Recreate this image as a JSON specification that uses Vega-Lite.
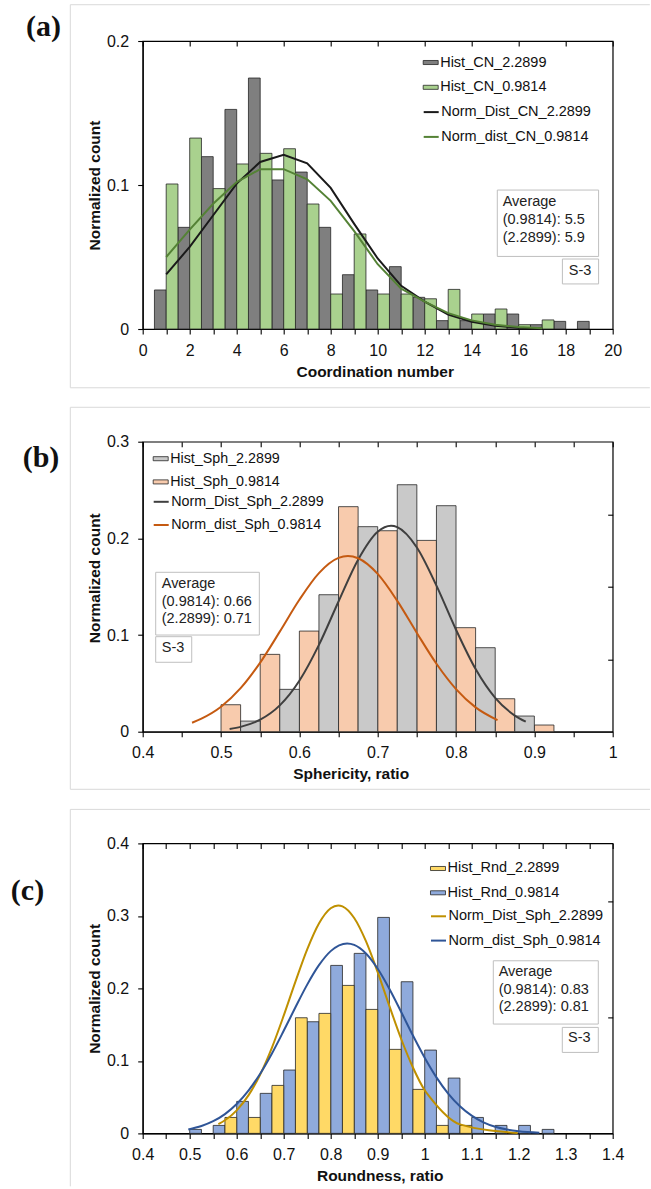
{
  "$schema": "https://vega.github.io/schema/vega-lite/v6.json",
  "background": "white",
  "padding": {"left": 9.7, "top": 3, "right": 0, "bottom": 0},
  "spacing": 16.7,
  "config": {
    "font": "Liberation Sans",
    "view": {"stroke": "#000", "strokeWidth": 1.2},
    "axis": {
      "grid": false,
      "domainColor": "#000",
      "domainWidth": 1.2,
      "tickColor": "#000",
      "tickWidth": 1.1,
      "tickSize": 5,
      "labelFont": "Liberation Sans",
      "labelFontSize": 16,
      "labelColor": "#111",
      "labelPadding": 8,
      "labelFlush": false,
      "labelOverlap": false,
      "labelBound": false,
      "titleFont": "Liberation Sans",
      "titleFontSize": 15.5,
      "titleFontWeight": "bold",
      "titleColor": "#111",
      "titlePadding": 6
    },
    "legend": {
      "labelFont": "Liberation Sans",
      "labelFontSize": 14.5,
      "labelColor": "#111",
      "padding": 0,
      "labelOffset": 1.5,
      "symbolSize": 225
    }
  },
  "resolve": {"scale": {"fill": "independent", "stroke": "independent"}},
  "datasets": {
    "cn_bars": [
      {"series": "Hist_CN_2.2899", "lo": 0.5, "hi": 1, "count": 0.0271},
      {"series": "Hist_CN_2.2899", "lo": 1.5, "hi": 2, "count": 0.0706},
      {"series": "Hist_CN_2.2899", "lo": 2.5, "hi": 3, "count": 0.1197},
      {"series": "Hist_CN_2.2899", "lo": 3.5, "hi": 4, "count": 0.1525},
      {"series": "Hist_CN_2.2899", "lo": 4.5, "hi": 5, "count": 0.1743},
      {"series": "Hist_CN_2.2899", "lo": 5.5, "hi": 6, "count": 0.1035},
      {"series": "Hist_CN_2.2899", "lo": 6.5, "hi": 7, "count": 0.109},
      {"series": "Hist_CN_2.2899", "lo": 7.5, "hi": 8, "count": 0.0706},
      {"series": "Hist_CN_2.2899", "lo": 8.5, "hi": 9, "count": 0.0377},
      {"series": "Hist_CN_2.2899", "lo": 9.5, "hi": 10, "count": 0.0271},
      {"series": "Hist_CN_2.2899", "lo": 10.5, "hi": 11, "count": 0.0433},
      {"series": "Hist_CN_2.2899", "lo": 11.5, "hi": 12, "count": 0.022},
      {"series": "Hist_CN_2.2899", "lo": 12.5, "hi": 13, "count": 0.0058},
      {"series": "Hist_CN_2.2899", "lo": 13.5, "hi": 14, "count": 0.0058},
      {"series": "Hist_CN_2.2899", "lo": 14.5, "hi": 15, "count": 0.0104},
      {"series": "Hist_CN_2.2899", "lo": 15.5, "hi": 16, "count": 0.0104},
      {"series": "Hist_CN_2.2899", "lo": 16.5, "hi": 17, "count": 0.003},
      {"series": "Hist_CN_2.2899", "lo": 17.5, "hi": 18, "count": 0.0053},
      {"series": "Hist_CN_2.2899", "lo": 18.5, "hi": 19, "count": 0.0053},
      {"series": "Hist_CN_0.9814", "lo": 1, "hi": 1.5, "count": 0.1007},
      {"series": "Hist_CN_0.9814", "lo": 2, "hi": 2.5, "count": 0.1326},
      {"series": "Hist_CN_0.9814", "lo": 3, "hi": 3.5, "count": 0.0975},
      {"series": "Hist_CN_0.9814", "lo": 4, "hi": 4.5, "count": 0.1146},
      {"series": "Hist_CN_0.9814", "lo": 5, "hi": 5.5, "count": 0.122},
      {"series": "Hist_CN_0.9814", "lo": 6, "hi": 6.5, "count": 0.1252},
      {"series": "Hist_CN_0.9814", "lo": 7, "hi": 7.5, "count": 0.0868},
      {"series": "Hist_CN_0.9814", "lo": 8, "hi": 8.5, "count": 0.0243},
      {"series": "Hist_CN_0.9814", "lo": 9, "hi": 9.5, "count": 0.066},
      {"series": "Hist_CN_0.9814", "lo": 10, "hi": 10.5, "count": 0.0243},
      {"series": "Hist_CN_0.9814", "lo": 11, "hi": 11.5, "count": 0.0243},
      {"series": "Hist_CN_0.9814", "lo": 12, "hi": 12.5, "count": 0.021},
      {"series": "Hist_CN_0.9814", "lo": 13, "hi": 13.5, "count": 0.0275},
      {"series": "Hist_CN_0.9814", "lo": 14, "hi": 14.5, "count": 0.0104},
      {"series": "Hist_CN_0.9814", "lo": 15, "hi": 15.5, "count": 0.0139},
      {"series": "Hist_CN_0.9814", "lo": 16, "hi": 16.5, "count": 0.003},
      {"series": "Hist_CN_0.9814", "lo": 17, "hi": 17.5, "count": 0.0063}
    ],
    "cn_lines": [
      {"series": "Norm_Dist_CN_2.2899", "cn": 1, "v": 0.038},
      {"series": "Norm_Dist_CN_2.2899", "cn": 2, "v": 0.057},
      {"series": "Norm_Dist_CN_2.2899", "cn": 3, "v": 0.079},
      {"series": "Norm_Dist_CN_2.2899", "cn": 4, "v": 0.101},
      {"series": "Norm_Dist_CN_2.2899", "cn": 5, "v": 0.116},
      {"series": "Norm_Dist_CN_2.2899", "cn": 6, "v": 0.121},
      {"series": "Norm_Dist_CN_2.2899", "cn": 7, "v": 0.115},
      {"series": "Norm_Dist_CN_2.2899", "cn": 8, "v": 0.098},
      {"series": "Norm_Dist_CN_2.2899", "cn": 9, "v": 0.073},
      {"series": "Norm_Dist_CN_2.2899", "cn": 10, "v": 0.049},
      {"series": "Norm_Dist_CN_2.2899", "cn": 11, "v": 0.03},
      {"series": "Norm_Dist_CN_2.2899", "cn": 12, "v": 0.019},
      {"series": "Norm_Dist_CN_2.2899", "cn": 13, "v": 0.01},
      {"series": "Norm_Dist_CN_2.2899", "cn": 14, "v": 0.005},
      {"series": "Norm_Dist_CN_2.2899", "cn": 15, "v": 0.0022},
      {"series": "Norm_Dist_CN_2.2899", "cn": 16, "v": 0.0009},
      {"series": "Norm_Dist_CN_2.2899", "cn": 17, "v": 0.0003},
      {"series": "Norm_dist_CN_0.9814", "cn": 1, "v": 0.05},
      {"series": "Norm_dist_CN_0.9814", "cn": 2, "v": 0.069},
      {"series": "Norm_dist_CN_0.9814", "cn": 3, "v": 0.087},
      {"series": "Norm_dist_CN_0.9814", "cn": 4, "v": 0.102},
      {"series": "Norm_dist_CN_0.9814", "cn": 5, "v": 0.111},
      {"series": "Norm_dist_CN_0.9814", "cn": 6, "v": 0.111},
      {"series": "Norm_dist_CN_0.9814", "cn": 7, "v": 0.104},
      {"series": "Norm_dist_CN_0.9814", "cn": 8, "v": 0.089},
      {"series": "Norm_dist_CN_0.9814", "cn": 9, "v": 0.068},
      {"series": "Norm_dist_CN_0.9814", "cn": 10, "v": 0.045},
      {"series": "Norm_dist_CN_0.9814", "cn": 11, "v": 0.028},
      {"series": "Norm_dist_CN_0.9814", "cn": 12, "v": 0.019},
      {"series": "Norm_dist_CN_0.9814", "cn": 13, "v": 0.011},
      {"series": "Norm_dist_CN_0.9814", "cn": 14, "v": 0.006},
      {"series": "Norm_dist_CN_0.9814", "cn": 15, "v": 0.003},
      {"series": "Norm_dist_CN_0.9814", "cn": 16, "v": 0.0014},
      {"series": "Norm_dist_CN_0.9814", "cn": 17, "v": 0.0006}
    ],
    "sph_bars": [
      {"series": "Hist_Sph_0.9814", "lo": 0.5, "hi": 0.525, "count": 0.0279},
      {"series": "Hist_Sph_0.9814", "lo": 0.55, "hi": 0.575, "count": 0.08},
      {"series": "Hist_Sph_0.9814", "lo": 0.6, "hi": 0.625, "count": 0.1041},
      {"series": "Hist_Sph_0.9814", "lo": 0.65, "hi": 0.675, "count": 0.2328},
      {"series": "Hist_Sph_0.9814", "lo": 0.7, "hi": 0.725, "count": 0.2079},
      {"series": "Hist_Sph_0.9814", "lo": 0.75, "hi": 0.775, "count": 0.1979},
      {"series": "Hist_Sph_0.9814", "lo": 0.8, "hi": 0.825, "count": 0.1076},
      {"series": "Hist_Sph_0.9814", "lo": 0.85, "hi": 0.875, "count": 0.0341},
      {"series": "Hist_Sph_0.9814", "lo": 0.9, "hi": 0.925, "count": 0.0069},
      {"series": "Hist_Sph_2.2899", "lo": 0.525, "hi": 0.55, "count": 0.011},
      {"series": "Hist_Sph_2.2899", "lo": 0.575, "hi": 0.6, "count": 0.0438},
      {"series": "Hist_Sph_2.2899", "lo": 0.625, "hi": 0.65, "count": 0.1417},
      {"series": "Hist_Sph_2.2899", "lo": 0.675, "hi": 0.7, "count": 0.2121},
      {"series": "Hist_Sph_2.2899", "lo": 0.725, "hi": 0.75, "count": 0.2555},
      {"series": "Hist_Sph_2.2899", "lo": 0.775, "hi": 0.8, "count": 0.2338},
      {"series": "Hist_Sph_2.2899", "lo": 0.825, "hi": 0.85, "count": 0.0869},
      {"series": "Hist_Sph_2.2899", "lo": 0.875, "hi": 0.9, "count": 0.0162}
    ],
    "sph_lines": [
      {"series": "Norm_Dist_Sph_2.2899", "r": 0.511, "v": 0.0028},
      {"series": "Norm_Dist_Sph_2.2899", "r": 0.525, "v": 0.005},
      {"series": "Norm_Dist_Sph_2.2899", "r": 0.55, "v": 0.0124},
      {"series": "Norm_Dist_Sph_2.2899", "r": 0.575, "v": 0.0272},
      {"series": "Norm_Dist_Sph_2.2899", "r": 0.6, "v": 0.0527},
      {"series": "Norm_Dist_Sph_2.2899", "r": 0.625, "v": 0.0898},
      {"series": "Norm_Dist_Sph_2.2899", "r": 0.65, "v": 0.1347},
      {"series": "Norm_Dist_Sph_2.2899", "r": 0.675, "v": 0.1779},
      {"series": "Norm_Dist_Sph_2.2899", "r": 0.7, "v": 0.2068},
      {"series": "Norm_Dist_Sph_2.2899", "r": 0.717, "v": 0.213},
      {"series": "Norm_Dist_Sph_2.2899", "r": 0.725, "v": 0.2116},
      {"series": "Norm_Dist_Sph_2.2899", "r": 0.75, "v": 0.1906},
      {"series": "Norm_Dist_Sph_2.2899", "r": 0.775, "v": 0.1511},
      {"series": "Norm_Dist_Sph_2.2899", "r": 0.8, "v": 0.1055},
      {"series": "Norm_Dist_Sph_2.2899", "r": 0.825, "v": 0.0648},
      {"series": "Norm_Dist_Sph_2.2899", "r": 0.85, "v": 0.035},
      {"series": "Norm_Dist_Sph_2.2899", "r": 0.875, "v": 0.0167},
      {"series": "Norm_Dist_Sph_2.2899", "r": 0.889, "v": 0.0104},
      {"series": "Norm_dist_Sph_0.9814", "r": 0.463, "v": 0.0093},
      {"series": "Norm_dist_Sph_0.9814", "r": 0.475, "v": 0.0135},
      {"series": "Norm_dist_Sph_0.9814", "r": 0.5, "v": 0.0258},
      {"series": "Norm_dist_Sph_0.9814", "r": 0.525, "v": 0.045},
      {"series": "Norm_dist_Sph_0.9814", "r": 0.55, "v": 0.0715},
      {"series": "Norm_dist_Sph_0.9814", "r": 0.575, "v": 0.1035},
      {"series": "Norm_dist_Sph_0.9814", "r": 0.6, "v": 0.1365},
      {"series": "Norm_dist_Sph_0.9814", "r": 0.625, "v": 0.1641},
      {"series": "Norm_dist_Sph_0.9814", "r": 0.65, "v": 0.1798},
      {"series": "Norm_dist_Sph_0.9814", "r": 0.662, "v": 0.1817},
      {"series": "Norm_dist_Sph_0.9814", "r": 0.675, "v": 0.1794},
      {"series": "Norm_dist_Sph_0.9814", "r": 0.7, "v": 0.1632},
      {"series": "Norm_dist_Sph_0.9814", "r": 0.725, "v": 0.1353},
      {"series": "Norm_dist_Sph_0.9814", "r": 0.75, "v": 0.1022},
      {"series": "Norm_dist_Sph_0.9814", "r": 0.775, "v": 0.0703},
      {"series": "Norm_dist_Sph_0.9814", "r": 0.8, "v": 0.0441},
      {"series": "Norm_dist_Sph_0.9814", "r": 0.825, "v": 0.0252},
      {"series": "Norm_dist_Sph_0.9814", "r": 0.853, "v": 0.012}
    ],
    "rnd_bars": [
      {"series": "Hist_Rnd_0.9814", "lo": 0.5, "hi": 0.525, "count": 0.0055},
      {"series": "Hist_Rnd_0.9814", "lo": 0.55, "hi": 0.575, "count": 0.011},
      {"series": "Hist_Rnd_0.9814", "lo": 0.6, "hi": 0.625, "count": 0.0441},
      {"series": "Hist_Rnd_0.9814", "lo": 0.65, "hi": 0.675, "count": 0.0552},
      {"series": "Hist_Rnd_0.9814", "lo": 0.7, "hi": 0.725, "count": 0.0874},
      {"series": "Hist_Rnd_0.9814", "lo": 0.75, "hi": 0.775, "count": 0.154},
      {"series": "Hist_Rnd_0.9814", "lo": 0.8, "hi": 0.825, "count": 0.2317},
      {"series": "Hist_Rnd_0.9814", "lo": 0.85, "hi": 0.875, "count": 0.2483},
      {"series": "Hist_Rnd_0.9814", "lo": 0.9, "hi": 0.925, "count": 0.2979},
      {"series": "Hist_Rnd_0.9814", "lo": 0.95, "hi": 0.975, "count": 0.2092},
      {"series": "Hist_Rnd_0.9814", "lo": 1.0, "hi": 1.025, "count": 0.1149},
      {"series": "Hist_Rnd_0.9814", "lo": 1.05, "hi": 1.075, "count": 0.0763},
      {"series": "Hist_Rnd_0.9814", "lo": 1.1, "hi": 1.125, "count": 0.022},
      {"series": "Hist_Rnd_0.9814", "lo": 1.15, "hi": 1.175, "count": 0.011},
      {"series": "Hist_Rnd_0.9814", "lo": 1.2, "hi": 1.225, "count": 0.011},
      {"series": "Hist_Rnd_0.9814", "lo": 1.25, "hi": 1.275, "count": 0.0055},
      {"series": "Hist_Rnd_2.2899", "lo": 0.575, "hi": 0.6, "count": 0.022},
      {"series": "Hist_Rnd_2.2899", "lo": 0.625, "hi": 0.65, "count": 0.022},
      {"series": "Hist_Rnd_2.2899", "lo": 0.675, "hi": 0.7, "count": 0.0662},
      {"series": "Hist_Rnd_2.2899", "lo": 0.725, "hi": 0.75, "count": 0.1595},
      {"series": "Hist_Rnd_2.2899", "lo": 0.775, "hi": 0.8, "count": 0.1655},
      {"series": "Hist_Rnd_2.2899", "lo": 0.825, "hi": 0.85, "count": 0.2041},
      {"series": "Hist_Rnd_2.2899", "lo": 0.875, "hi": 0.9, "count": 0.171},
      {"series": "Hist_Rnd_2.2899", "lo": 0.925, "hi": 0.95, "count": 0.1159},
      {"series": "Hist_Rnd_2.2899", "lo": 0.975, "hi": 1.0, "count": 0.0607},
      {"series": "Hist_Rnd_2.2899", "lo": 1.025, "hi": 1.05, "count": 0.011},
      {"series": "Hist_Rnd_2.2899", "lo": 1.075, "hi": 1.1, "count": 0.011}
    ],
    "rnd_lines": [
      {"series": "Norm_Dist_Sph_2.2899", "r": 0.561, "v": 0.0129},
      {"series": "Norm_Dist_Sph_2.2899", "r": 0.575, "v": 0.0181},
      {"series": "Norm_Dist_Sph_2.2899", "r": 0.6, "v": 0.0318},
      {"series": "Norm_Dist_Sph_2.2899", "r": 0.625, "v": 0.0524},
      {"series": "Norm_Dist_Sph_2.2899", "r": 0.65, "v": 0.0813},
      {"series": "Norm_Dist_Sph_2.2899", "r": 0.675, "v": 0.1184},
      {"series": "Norm_Dist_Sph_2.2899", "r": 0.7, "v": 0.1624},
      {"series": "Norm_Dist_Sph_2.2899", "r": 0.725, "v": 0.2094},
      {"series": "Norm_Dist_Sph_2.2899", "r": 0.75, "v": 0.2539},
      {"series": "Norm_Dist_Sph_2.2899", "r": 0.775, "v": 0.2896},
      {"series": "Norm_Dist_Sph_2.2899", "r": 0.8, "v": 0.3106},
      {"series": "Norm_Dist_Sph_2.2899", "r": 0.816, "v": 0.3145},
      {"series": "Norm_Dist_Sph_2.2899", "r": 0.825, "v": 0.3132},
      {"series": "Norm_Dist_Sph_2.2899", "r": 0.85, "v": 0.2971},
      {"series": "Norm_Dist_Sph_2.2899", "r": 0.875, "v": 0.2651},
      {"series": "Norm_Dist_Sph_2.2899", "r": 0.9, "v": 0.2224},
      {"series": "Norm_Dist_Sph_2.2899", "r": 0.925, "v": 0.1755},
      {"series": "Norm_Dist_Sph_2.2899", "r": 0.95, "v": 0.1302},
      {"series": "Norm_Dist_Sph_2.2899", "r": 0.975, "v": 0.0909},
      {"series": "Norm_Dist_Sph_2.2899", "r": 1.0, "v": 0.0596},
      {"series": "Norm_Dist_Sph_2.2899", "r": 1.011, "v": 0.05},
      {"series": "Norm_Dist_Sph_2.2899", "r": 1.075, "v": 0.0124},
      {"series": "Norm_Dist_Sph_2.2899", "r": 1.198, "v": 0.0005},
      {"series": "Norm_dist_Sph_0.9814", "r": 0.497, "v": 0.0055},
      {"series": "Norm_dist_Sph_0.9814", "r": 0.525, "v": 0.0102},
      {"series": "Norm_dist_Sph_0.9814", "r": 0.55, "v": 0.0168},
      {"series": "Norm_dist_Sph_0.9814", "r": 0.575, "v": 0.0266},
      {"series": "Norm_dist_Sph_0.9814", "r": 0.6, "v": 0.0405},
      {"series": "Norm_dist_Sph_0.9814", "r": 0.625, "v": 0.059},
      {"series": "Norm_dist_Sph_0.9814", "r": 0.65, "v": 0.0823},
      {"series": "Norm_dist_Sph_0.9814", "r": 0.675, "v": 0.1102},
      {"series": "Norm_dist_Sph_0.9814", "r": 0.7, "v": 0.1415},
      {"series": "Norm_dist_Sph_0.9814", "r": 0.725, "v": 0.174},
      {"series": "Norm_dist_Sph_0.9814", "r": 0.75, "v": 0.2052},
      {"series": "Norm_dist_Sph_0.9814", "r": 0.775, "v": 0.232},
      {"series": "Norm_dist_Sph_0.9814", "r": 0.8, "v": 0.2514},
      {"series": "Norm_dist_Sph_0.9814", "r": 0.835, "v": 0.262},
      {"series": "Norm_dist_Sph_0.9814", "r": 0.85, "v": 0.26},
      {"series": "Norm_dist_Sph_0.9814", "r": 0.875, "v": 0.2482},
      {"series": "Norm_dist_Sph_0.9814", "r": 0.9, "v": 0.2271},
      {"series": "Norm_dist_Sph_0.9814", "r": 0.925, "v": 0.1992},
      {"series": "Norm_dist_Sph_0.9814", "r": 0.95, "v": 0.1675},
      {"series": "Norm_dist_Sph_0.9814", "r": 0.975, "v": 0.135},
      {"series": "Norm_dist_Sph_0.9814", "r": 1.0, "v": 0.1044},
      {"series": "Norm_dist_Sph_0.9814", "r": 1.025, "v": 0.0773},
      {"series": "Norm_dist_Sph_0.9814", "r": 1.05, "v": 0.0549},
      {"series": "Norm_dist_Sph_0.9814", "r": 1.075, "v": 0.0374},
      {"series": "Norm_dist_Sph_0.9814", "r": 1.1, "v": 0.0244},
      {"series": "Norm_dist_Sph_0.9814", "r": 1.125, "v": 0.0152},
      {"series": "Norm_dist_Sph_0.9814", "r": 1.15, "v": 0.0091},
      {"series": "Norm_dist_Sph_0.9814", "r": 1.175, "v": 0.0053},
      {"series": "Norm_dist_Sph_0.9814", "r": 1.2, "v": 0.0029},
      {"series": "Norm_dist_Sph_0.9814", "r": 1.244, "v": 0.0009}
    ]
  },
  "vconcat": [
    {
      "width": 470,
      "height": 288,
      "resolve": {"axis": {"x": "independent", "y": "independent"}},
      "layer": [
        {
          "data": {"values": [{}]},
          "mark": {"type": "rule", "color": "#d9d9d9", "strokeWidth": 1},
          "encoding": {
            "x": {"datum": -3.08, "scale": {"domain": [0, 20], "nice": false, "zero": false}, "axis": null},
            "x2": {"datum": 21.58},
            "y": {"datum": 0.2252, "scale": {"domain": [0, 0.2], "nice": false}, "axis": null}
          }
        },
        {
          "data": {"values": [{}]},
          "mark": {"type": "rule", "color": "#d9d9d9", "strokeWidth": 1},
          "encoding": {
            "x": {"datum": -3.08, "axis": null},
            "x2": {"datum": 21.58},
            "y": {"datum": -0.0408, "axis": null}
          }
        },
        {
          "data": {"values": [{}]},
          "mark": {"type": "rule", "color": "#d9d9d9", "strokeWidth": 1},
          "encoding": {
            "x": {"datum": -3.08, "axis": null},
            "y": {"datum": 0.2252, "axis": null},
            "y2": {"datum": -0.0408}
          }
        },
        {
          "data": {"name": "cn_bars"},
          "mark": {"type": "rect", "stroke": "#262626", "strokeWidth": 0.8},
          "encoding": {
            "x": {"field": "lo", "type": "quantitative",
                  "axis": {"orient": "bottom", "values": [0,1,2,3,4,5,6,7,8,9,10,11,12,13,14,15,16,17,18,19,20], "format": "~g",
                           "labelExpr": "datum.value % 2 === 0 ? datum.label : ''",
                           "title": "Coordination number", "titleX": 232}},
            "x2": {"field": "hi"},
            "y": {"field": "count", "type": "quantitative",
                  "axis": {"orient": "left", "values": [0, 0.1, 0.2], "format": "~g", "labelPadding": 9, "titlePadding": 4, "title": "Normalized count"}},
            "y2": {"datum": 0},
            "fill": {"field": "series", "type": "nominal",
                     "scale": {"domain": ["Hist_CN_2.2899", "Hist_CN_0.9814"], "range": ["#7f7f7f", "#a9d18e"]},
                     "legend": {"orient": "none", "legendX": 280, "legendY": 13.5, "title": null, "rowPadding": 9.8,
                                "labelFontSize": 14.5, "labelFont": "Liberation Sans",
                                "symbolType": "M-1,-0.27H1V0.27H-1Z", "symbolStrokeColor": "#262626", "symbolStrokeWidth": 0.8}}
          }
        },
        {
          "data": {"name": "cn_lines"},
          "mark": {"type": "line", "strokeWidth": 2, "interpolate": "linear"},
          "encoding": {
            "x": {"field": "cn", "type": "quantitative",
                  "axis": {"orient": "top", "values": [0,2,4,6,8,10,12,14,16,18,20], "labels": false, "domain": false, "offset": -5, "title": null}},
            "y": {"field": "v", "type": "quantitative", "axis": null},
            "stroke": {"field": "series", "type": "nominal",
                       "scale": {"domain": ["Norm_Dist_CN_2.2899", "Norm_dist_CN_0.9814"], "range": ["#1a1a1a", "#548235"]},
                       "legend": {"orient": "none", "legendX": 280, "legendY": 62.6, "title": null, "rowPadding": 9.8,
                                  "labelFontSize": 14.5, "labelFont": "Liberation Sans",
                                  "symbolType": "stroke", "symbolStrokeWidth": 2}}
          }
        },
        {
          "data": {"values": [{}]},
          "mark": {"type": "rect", "fill": "white", "stroke": "#bfbfbf", "strokeWidth": 1},
          "encoding": {
            "x": {"datum": 15.09, "axis": null}, "x2": {"datum": 19.4},
            "y": {"datum": 0.0965, "axis": null}, "y2": {"datum": 0.0504}
          }
        },
        {
          "data": {"values": [{}]},
          "mark": {"type": "text", "align": "left", "baseline": "middle", "fontSize": 14.5, "lineHeight": 18, "color": "#222"},
          "encoding": {
            "x": {"datum": 15.32, "axis": null},
            "y": {"datum": 0.0884, "axis": null},
            "text": {"value": ["Average", "(0.9814): 5.5", "(2.2899): 5.9"]}
          }
        },
        {
          "data": {"values": [{}]},
          "mark": {"type": "rect", "fill": "white", "stroke": "#bfbfbf", "strokeWidth": 1},
          "encoding": {
            "x": {"datum": 17.86, "axis": null}, "x2": {"datum": 19.4},
            "y": {"datum": 0.0486, "axis": null}, "y2": {"datum": 0.0313}
          }
        },
        {
          "data": {"values": [{}]},
          "mark": {"type": "text", "align": "center", "baseline": "middle", "fontSize": 14.5, "color": "#222"},
          "encoding": {
            "x": {"datum": 18.61, "axis": null},
            "y": {"datum": 0.04, "axis": null},
            "text": {"value": "S-3"}
          }
        },
        {
          "data": {"values": [{}]},
          "mark": {"type": "text", "align": "center", "baseline": "middle", "font": "Liberation Serif", "fontWeight": "bold", "fontSize": 30, "color": "#111"},
          "encoding": {
            "x": {"datum": -4.22, "axis": null},
            "y": {"datum": 0.2095, "axis": null},
            "text": {"value": "(a)"}
          }
        }
      ]
    },
    {
      "width": 470,
      "height": 290,
      "resolve": {"axis": {"x": "independent", "y": "independent"}},
      "layer": [
        {
          "data": {"values": [{}]},
          "mark": {"type": "rule", "color": "#d9d9d9", "strokeWidth": 1},
          "encoding": {
            "x": {"datum": 0.3076, "scale": {"domain": [0.4, 1.0], "nice": false, "zero": false}, "axis": null},
            "x2": {"datum": 1.0477},
            "y": {"datum": 0.3356, "scale": {"domain": [0, 0.3], "nice": false}, "axis": null}
          }
        },
        {
          "data": {"values": [{}]},
          "mark": {"type": "rule", "color": "#d9d9d9", "strokeWidth": 1},
          "encoding": {
            "x": {"datum": 0.3076, "axis": null},
            "x2": {"datum": 1.0477},
            "y": {"datum": -0.0596, "axis": null}
          }
        },
        {
          "data": {"values": [{}]},
          "mark": {"type": "rule", "color": "#d9d9d9", "strokeWidth": 1},
          "encoding": {
            "x": {"datum": 0.3076, "axis": null},
            "y": {"datum": 0.3356, "axis": null},
            "y2": {"datum": -0.0596}
          }
        },
        {
          "data": {"name": "sph_bars"},
          "mark": {"type": "rect", "stroke": "#262626", "strokeWidth": 0.8},
          "encoding": {
            "x": {"field": "lo", "type": "quantitative",
                  "axis": {"orient": "bottom", "values": [0.4,0.45,0.5,0.55,0.6,0.65,0.7,0.75,0.8,0.85,0.9,0.95,1], "format": "~g",
                           "labelExpr": "abs(datum.value*10 - round(datum.value*10)) < 0.001 ? datum.label : ''",
                           "title": "Sphericity, ratio", "titleX": 208}},
            "x2": {"field": "hi"},
            "y": {"field": "count", "type": "quantitative",
                  "axis": {"orient": "left", "values": [0, 0.1, 0.2, 0.3], "format": "~g", "labelPadding": 9, "titlePadding": 4, "title": "Normalized count", "titleY": 136}},
            "y2": {"datum": 0},
            "fill": {"field": "series", "type": "nominal",
                     "scale": {"domain": ["Hist_Sph_2.2899", "Hist_Sph_0.9814"], "range": ["#c9c9c9", "#f8cbad"]},
                     "legend": {"orient": "none", "legendX": 10, "legendY": 9.0, "title": null, "rowPadding": 7.2,
                                "labelFontSize": 14.3, "labelFont": "Liberation Sans",
                                "symbolType": "M-1,-0.27H1V0.27H-1Z", "symbolStrokeColor": "#262626", "symbolStrokeWidth": 0.8}}
          }
        },
        {
          "data": {"name": "sph_lines"},
          "mark": {"type": "line", "strokeWidth": 2, "interpolate": "monotone"},
          "encoding": {
            "x": {"field": "r", "type": "quantitative",
                  "axis": {"orient": "top", "values": [0.4,0.45,0.5,0.55,0.6,0.65,0.7,0.75,0.8,0.85,0.9,0.95,1], "labels": false, "domain": false, "offset": -5, "title": null}},
            "y": {"field": "v", "type": "quantitative",
                  "axis": {"orient": "right", "values": [0.075, 0.15, 0.225], "labels": false, "domain": false, "offset": -5, "title": null}},
            "stroke": {"field": "series", "type": "nominal",
                       "scale": {"domain": ["Norm_Dist_Sph_2.2899", "Norm_dist_Sph_0.9814"], "range": ["#3f3f3f", "#c55a11"]},
                       "legend": {"orient": "none", "legendX": 10, "legendY": 51.6, "title": null, "rowPadding": 7.2,
                                  "labelFontSize": 14.3, "labelFont": "Liberation Sans",
                                  "symbolType": "stroke", "symbolStrokeWidth": 2}}
          }
        },
        {
          "data": {"values": [{}]},
          "mark": {"type": "rect", "fill": "white", "stroke": "#bfbfbf", "strokeWidth": 1},
          "encoding": {
            "x": {"datum": 0.4166, "axis": null}, "x2": {"datum": 0.5489},
            "y": {"datum": 0.1649, "axis": null}, "y2": {"datum": 0.1}
          }
        },
        {
          "data": {"values": [{}]},
          "mark": {"type": "text", "align": "left", "baseline": "middle", "fontSize": 14.5, "lineHeight": 17.5, "color": "#222"},
          "encoding": {
            "x": {"datum": 0.4243, "axis": null},
            "y": {"datum": 0.1525, "axis": null},
            "text": {"value": ["Average", "(0.9814): 0.66", "(2.2899): 0.71"]}
          }
        },
        {
          "data": {"values": [{}]},
          "mark": {"type": "rect", "fill": "white", "stroke": "#bfbfbf", "strokeWidth": 1},
          "encoding": {
            "x": {"datum": 0.4166, "axis": null}, "x2": {"datum": 0.4626},
            "y": {"datum": 0.0983, "axis": null}, "y2": {"datum": 0.0718}
          }
        },
        {
          "data": {"values": [{}]},
          "mark": {"type": "text", "align": "left", "baseline": "middle", "fontSize": 14.5, "color": "#222"},
          "encoding": {
            "x": {"datum": 0.4243, "axis": null},
            "y": {"datum": 0.0869, "axis": null},
            "text": {"value": "S-3"}
          }
        },
        {
          "data": {"values": [{}]},
          "mark": {"type": "text", "align": "center", "baseline": "middle", "font": "Liberation Serif", "fontWeight": "bold", "fontSize": 30, "color": "#111"},
          "encoding": {
            "x": {"datum": 0.2702, "axis": null},
            "y": {"datum": 0.2835, "axis": null},
            "text": {"value": "(b)"}
          }
        }
      ]
    },
    {
      "width": 470,
      "height": 290,
      "resolve": {"axis": {"x": "independent", "y": "independent"}},
      "layer": [
        {
          "data": {"values": [{}]},
          "mark": {"type": "rule", "color": "#d9d9d9", "strokeWidth": 1},
          "encoding": {
            "x": {"datum": 0.246, "scale": {"domain": [0.4, 1.4], "nice": false, "zero": false}, "axis": null},
            "x2": {"datum": 1.4794},
            "y": {"datum": 0.4469, "scale": {"domain": [0, 0.4], "nice": false}, "axis": null}
          }
        },
        {
          "data": {"values": [{}]},
          "mark": {"type": "rule", "color": "#d9d9d9", "strokeWidth": 1},
          "encoding": {
            "x": {"datum": 0.246, "axis": null},
            "y": {"datum": 0.4469, "axis": null},
            "y2": {"datum": -0.073}
          }
        },
        {
          "data": {"name": "rnd_bars"},
          "mark": {"type": "rect", "stroke": "#262626", "strokeWidth": 0.8},
          "encoding": {
            "x": {"field": "lo", "type": "quantitative",
                  "axis": {"orient": "bottom", "values": [0.4,0.45,0.5,0.55,0.6,0.65,0.7,0.75,0.8,0.85,0.9,0.95,1,1.05,1.1,1.15,1.2,1.25,1.3,1.35,1.4], "format": "~g",
                           "labelExpr": "abs(datum.value*10 - round(datum.value*10)) < 0.001 ? datum.label : ''",
                           "title": "Roundness, ratio", "titleX": 237}},
            "x2": {"field": "hi"},
            "y": {"field": "count", "type": "quantitative",
                  "axis": {"orient": "left", "values": [0, 0.1, 0.2, 0.3, 0.4], "format": "~g", "labelPadding": 9, "titlePadding": 4, "title": "Normalized count"}},
            "y2": {"datum": 0},
            "fill": {"field": "series", "type": "nominal",
                     "scale": {"domain": ["Hist_Rnd_2.2899", "Hist_Rnd_0.9814"], "range": ["#ffd966", "#8faadc"]},
                     "legend": {"orient": "none", "legendX": 287.3, "legendY": 17.1, "title": null, "rowPadding": 9.3,
                                "labelFontSize": 14.5, "labelFont": "Liberation Sans",
                                "symbolType": "M-1,-0.27H1V0.27H-1Z", "symbolStrokeColor": "#262626", "symbolStrokeWidth": 0.8}}
          }
        },
        {
          "data": {"name": "rnd_lines"},
          "mark": {"type": "line", "strokeWidth": 2, "interpolate": "monotone"},
          "encoding": {
            "x": {"field": "r", "type": "quantitative",
                  "axis": {"orient": "top", "values": [0.4,0.45,0.5,0.55,0.6,0.65,0.7,0.75,0.8,0.85,0.9,0.95,1,1.05,1.1,1.15,1.2,1.25,1.3,1.35,1.4], "labels": false, "domain": false, "offset": -5, "title": null}},
            "y": {"field": "v", "type": "quantitative",
                  "axis": {"orient": "right", "values": [0.16, 0.32], "labels": false, "domain": false, "offset": -5, "title": null}},
            "stroke": {"field": "series", "type": "nominal",
                       "scale": {"domain": ["Norm_Dist_Sph_2.2899", "Norm_dist_Sph_0.9814"], "range": ["#bf9000", "#2f5597"]},
                       "legend": {"orient": "none", "legendX": 287.3, "legendY": 64.4, "title": null, "rowPadding": 9.3,
                                  "labelFontSize": 14.5, "labelFont": "Liberation Sans",
                                  "symbolType": "stroke", "symbolStrokeWidth": 2}}
          }
        },
        {
          "data": {"values": [{}]},
          "mark": {"type": "rect", "fill": "white", "stroke": "#bfbfbf", "strokeWidth": 1},
          "encoding": {
            "x": {"datum": 1.146, "axis": null}, "x2": {"datum": 1.3694},
            "y": {"datum": 0.2381, "axis": null}, "y2": {"datum": 0.1508}
          }
        },
        {
          "data": {"values": [{}]},
          "mark": {"type": "text", "align": "left", "baseline": "middle", "fontSize": 14.5, "lineHeight": 17.5, "color": "#222"},
          "encoding": {
            "x": {"datum": 1.1574, "axis": null},
            "y": {"datum": 0.2221, "axis": null},
            "text": {"value": ["Average", "(0.9814): 0.83", "(2.2899): 0.81"]}
          }
        },
        {
          "data": {"values": [{}]},
          "mark": {"type": "rect", "fill": "white", "stroke": "#bfbfbf", "strokeWidth": 1},
          "encoding": {
            "x": {"datum": 1.2928, "axis": null}, "x2": {"datum": 1.3694},
            "y": {"datum": 0.1462, "axis": null}, "y2": {"datum": 0.1117}
          }
        },
        {
          "data": {"values": [{}]},
          "mark": {"type": "text", "align": "center", "baseline": "middle", "fontSize": 14.5, "color": "#222"},
          "encoding": {
            "x": {"datum": 1.3289, "axis": null},
            "y": {"datum": 0.131, "axis": null},
            "text": {"value": "S-3"}
          }
        },
        {
          "data": {"values": [{}]},
          "mark": {"type": "text", "align": "center", "baseline": "middle", "font": "Liberation Serif", "fontWeight": "bold", "fontSize": 30, "color": "#111"},
          "encoding": {
            "x": {"datum": 0.1549, "axis": null},
            "y": {"datum": 0.3345, "axis": null},
            "text": {"value": "(c)"}
          }
        }
      ]
    }
  ]
}
